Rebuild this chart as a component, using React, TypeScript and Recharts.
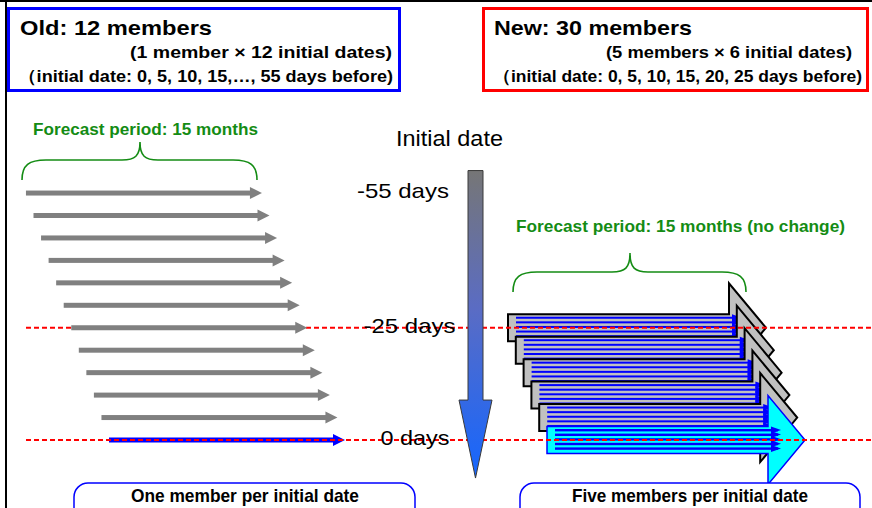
import React from 'react';
import { ScatterChart, Scatter, XAxis, YAxis } from 'recharts';

const W = 872;
const H = 508;

// ---- data ----
const oldInitialDays = [55, 50, 45, 40, 35, 30, 25, 20, 15, 10, 5, 0];
const newInitialDays = [25, 20, 15, 10, 5, 0];
const newMembers = [1, 2, 3, 4, 5];
const forecastMonths = 15;
const guideDays = [25, 0];
const dayLabelDays = [55, 25, 0];
const dayLabelTexts = ['-55 days', '-25 days', '0 days'];

// ---- layout ----
const ZERO_Y = 440;
const PX_PER_DAY_Y = 4.49;
const Y_DOMAIN: [number, number] = [-(H - ZERO_Y) / PX_PER_DAY_Y, ZERO_Y / PX_PER_DAY_Y];
const OLD_X0 = 109;
const OLD_DX = 1.51;
const OLD_PX_PER_MONTH = 236 / 15;
const NEW_X0 = 547;
const NEW_DX = 1.56;
const NEW_PX_PER_MONTH = 258 / 15;
const CENTER_X = 475.5;
const LABEL_X0 = 415;
const LABEL_DX = 0.22;
const GUIDE_X0 = 26;

const FONT = '"Liberation Sans", Arial, Helvetica, sans-serif';
const NARROW = '"Liberation Sans Narrow", "Arial Narrow", "Liberation Sans", Arial, sans-serif';
const GREEN = '#148c14';

const oldEarlier = oldInitialDays.filter((d) => d > 0).map((d) => ({ x: OLD_X0 - OLD_DX * d, y: d, days: d }));
const oldLatest = oldInitialDays.filter((d) => d === 0).map((d) => ({ x: OLD_X0 - OLD_DX * d, y: d, days: d }));
const newData = newInitialDays.map((d) => ({ x: NEW_X0 - NEW_DX * d, y: d, days: d }));
const guideData = guideDays.map((d) => ({ x: GUIDE_X0, y: d }));
const labelData = dayLabelDays.map((d, i) => ({ x: LABEL_X0 - LABEL_DX * d, y: d, label: dayLabelTexts[i] }));
const centerData = [{ x: CENTER_X, y: oldInitialDays[0] }];

const OldArrow = (props: any) => {
  const { cx, cy, payload } = props;
  const len = forecastMonths * OLD_PX_PER_MONTH;
  const color = payload.days === 0 ? '#0000ff' : '#808080';
  const hl = 12;
  return (
    <g>
      <rect x={cx} y={cy - 2.5} width={len - hl + 1} height={5} fill={color} />
      <polygon points={`${cx + len - hl},${cy - 6} ${cx + len},${cy} ${cx + len - hl},${cy + 6}`} fill={color} />
    </g>
  );
};

const NewBlock = (props: any) => {
  const { cx, cy, payload } = props;
  const total = forecastMonths * NEW_PX_PER_MONTH;
  const headLen = 37;
  const body = total - headLen;
  const bh = 13.5;
  const hh = 44.5;
  const latest = payload.days === 0;
  const fill = latest ? '#00ffff' : '#c0c0c0';
  const stroke = latest ? '#0000ff' : '#000000';
  const d = `M${cx},${cy - bh} L${cx + body},${cy - bh} L${cx + body},${cy - hh} L${cx + total},${cy} L${cx + body},${cy + hh} L${cx + body},${cy + bh} L${cx},${cy + bh} Z`;
  return (
    <g>
      <path d={d} fill={fill} stroke={stroke} strokeWidth={latest ? 1.5 : 2} strokeLinejoin="miter" />
      {newMembers.map((m, j) => {
        const y = cy - 10 + 4.6 * j;
        return (
          <g key={m}>
            <rect x={cx + 8} y={y - 1} width={body + 2} height={latest ? 2.4 : 2} fill="#0000ff" />
            <polygon points={`${cx + body + 3},${y - 3.5} ${cx + body + 13},${y} ${cx + body + 3},${y + 3.5}`} fill="#0000ff" />
          </g>
        );
      })}
    </g>
  );
};

const GuideLine = (props: any) => {
  const { cx, cy } = props;
  return <line x1={cx} y1={cy} x2={W} y2={cy} stroke="#ff0000" strokeWidth={2} strokeDasharray="5 3" />;
};

const CenterArrow = (props: any) => {
  const { cx, cy } = props;
  const top = cy - 22.5;
  const hb = cy + 207;
  const tip = cy + 285;
  const d = `M${cx - 7.5},${top} L${cx + 7.5},${top} L${cx + 7.5},${hb} L${cx + 16.5},${hb} L${cx},${tip} L${cx - 16.5},${hb} L${cx - 7.5},${hb} Z`;
  return (
    <g>
      <defs>
        <linearGradient id="initGrad" x1="0" y1="0" x2="0" y2="1">
          <stop offset="0" stopColor="#767676" />
          <stop offset="0.45" stopColor="#5a6cc4" />
          <stop offset="1" stopColor="#1466ff" />
        </linearGradient>
      </defs>
      <path d={d} fill="url(#initGrad)" stroke="#3a3a3a" strokeWidth={1} />
    </g>
  );
};

const DayLabel = (props: any) => {
  const { cx, cy, payload } = props;
  return (
    <text x={cx} y={cy + 5} textAnchor="middle" fontFamily={FONT} fontSize={21} fill="#000"
      textLength={payload.label.length * 11.5} lengthAdjust="spacingAndGlyphs">
      {payload.label}
    </text>
  );
};

const brace = (x1: number, x2: number, yEnd: number, yFlat: number, tipX: number, tipY: number) =>
  `M${x1},${yEnd} C${x1},${yFlat + 5} ${x1 + 7},${yFlat} ${x1 + 24},${yFlat} L${tipX - 18},${yFlat} C${tipX - 5},${yFlat} ${tipX},${yFlat - 4} ${tipX},${tipY} C${tipX},${yFlat - 4} ${tipX + 5},${yFlat} ${tipX + 18},${yFlat} L${x2 - 24},${yFlat} C${x2 - 7},${yFlat} ${x2},${yFlat + 5} ${x2},${yEnd}`;

const T = (p: any) => (
  <text x={p.x} y={p.y} textAnchor={p.anchor || 'start'} fontFamily={p.family || FONT} fontSize={p.size}
    fontWeight={p.weight || 'normal'} fill={p.fill || '#000'} textLength={p.len} lengthAdjust="spacingAndGlyphs">
    {p.children}
  </text>
);

const Overlay = () => {
  const nOld = oldInitialDays.length;
  const nNew = newInitialDays.length * newMembers.length;
  return (
    <svg width={W} height={H} style={{ position: 'absolute', left: 0, top: 0, pointerEvents: 'none' }}>
      {/* frame */}
      <line x1={0} y1={1} x2={W} y2={1} stroke="#000" strokeWidth={2} />
      <line x1={6} y1={0} x2={6} y2={H} stroke="#000" strokeWidth={2} />
      {/* old box */}
      <rect x={8.5} y={8.5} width={391} height={82} fill="#fff" stroke="#0000ff" strokeWidth={3} />
      <T x={20} y={35} size={21} weight="bold" len={192}>{`Old: ${nOld} members`}</T>
      <T x={392} y={58} size={16.5} weight="bold" anchor="end" len={262}>{`(1 member × ${nOld} initial dates)`}</T>
      <T x={18} y={82} size={16.5} weight="bold" len={375}>{`（initial date: ${oldInitialDays.slice().reverse().slice(0, 4).join(', ')},…, ${oldInitialDays[0]} days before)`}</T>
      {/* new box */}
      <rect x={483.5} y={8.5} width={384} height={82} fill="#fff" stroke="#ff0000" strokeWidth={3} />
      <T x={494} y={35} size={21} weight="bold" len={198}>{`New: ${nNew} members`}</T>
      <T x={852} y={58} size={16.5} weight="bold" anchor="end" len={246}>{`(${newMembers.length} members × ${newInitialDays.length} initial dates)`}</T>
      <T x={493} y={82} size={16.5} weight="bold" len={369}>{`（initial date: ${newInitialDays.slice().reverse().join(', ')} days before)`}</T>
      {/* braces */}
      <T x={33} y={135} size={17} weight="bold" fill={GREEN} len={225}>{`Forecast period: ${forecastMonths} months`}</T>
      <path d={brace(22, 257, 180, 160, 140, 142)} fill="none" stroke={GREEN} strokeWidth={1.6} />
      <T x={516} y={232} size={17} weight="bold" fill={GREEN} len={329}>{`Forecast period: ${forecastMonths} months (no change)`}</T>
      <path d={brace(513, 746, 292, 272, 630, 253)} fill="none" stroke={GREEN} strokeWidth={1.6} />
      {/* central title */}
      <T x={396} y={146} size={22} len={107}>Initial date</T>
      {/* bottom boxes */}
      <rect x={74} y={483} width={341} height={45} rx={14} ry={14} fill="#fff" stroke="#0000ff" strokeWidth={1.5} />
      <T x={245} y={502} size={19} weight="bold" anchor="middle" family={NARROW} len={228}>One member per initial date</T>
      <rect x={520} y={483} width={340} height={45} rx={14} ry={14} fill="#fff" stroke="#0000ff" strokeWidth={1.5} />
      <T x={690} y={502} size={19} weight="bold" anchor="middle" family={NARROW} len={236}>Five members per initial date</T>
    </svg>
  );
};

export default function App() {
  return (
    <div style={{ position: 'absolute', left: 0, top: 0, width: W, height: H, background: '#fff' }}>
      <ScatterChart width={W} height={H} margin={{ top: 0, right: 0, bottom: 0, left: 0 }}>
        <XAxis type="number" dataKey="x" domain={[0, W]} hide allowDataOverflow />
        <YAxis type="number" dataKey="y" domain={Y_DOMAIN} hide allowDataOverflow />
        <Scatter data={newData} shape={(p: any) => <NewBlock {...p} />} isAnimationActive={false} />
        <Scatter data={oldLatest} shape={(p: any) => <OldArrow {...p} />} isAnimationActive={false} />
        <Scatter data={guideData} shape={(p: any) => <GuideLine {...p} />} isAnimationActive={false} />
        <Scatter data={oldEarlier} shape={(p: any) => <OldArrow {...p} />} isAnimationActive={false} />
        <Scatter data={centerData} shape={(p: any) => <CenterArrow {...p} />} isAnimationActive={false} />
        <Scatter data={labelData} shape={(p: any) => <DayLabel {...p} />} isAnimationActive={false} />
      </ScatterChart>
      <Overlay />
    </div>
  );
}
